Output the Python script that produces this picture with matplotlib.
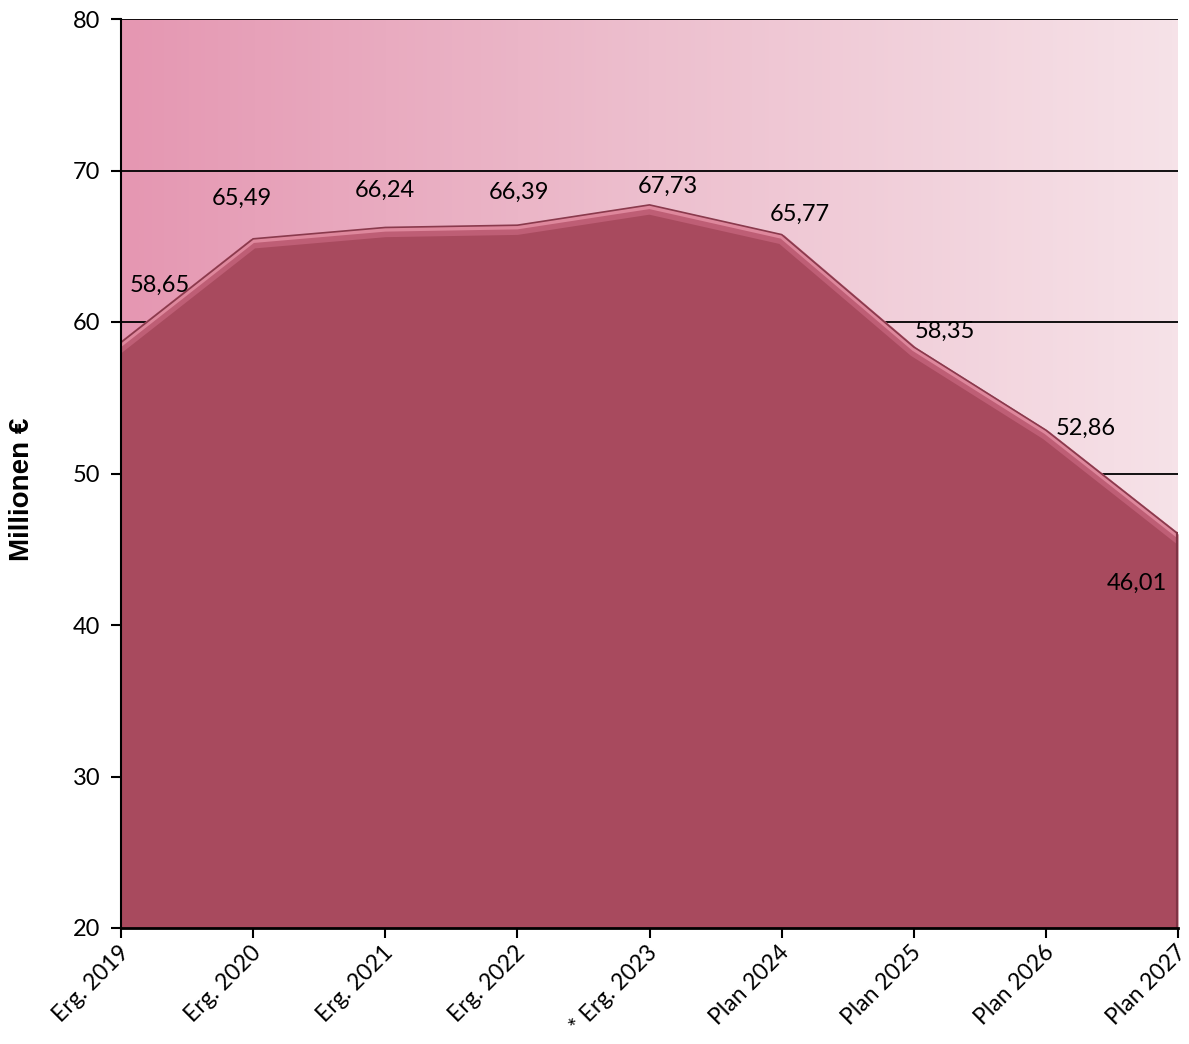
import numpy as np
import matplotlib
matplotlib.use("Agg")
import matplotlib.pyplot as plt
from matplotlib import patheffects as pe
from matplotlib import transforms as mtransforms
from matplotlib.colors import LinearSegmentedColormap

# Data
categories = ["Erg. 2019", "Erg. 2020", "Erg. 2021", "Erg. 2022", "* Erg. 2023",
              "Plan 2024", "Plan 2025", "Plan 2026", "Plan 2027"]
values = [58.65, 65.49, 66.24, 66.39, 67.73, 65.77, 58.35, 52.86, 46.01]
value_labels = ["58,65", "65,49", "66,24", "66,39", "67,73", "65,77", "58,35", "52,86", "46,01"]
y_ticks = [20, 30, 40, 50, 60, 70, 80]

# Label placement offsets in pixels (dx, dy)
label_offsets = [(39, 57), (-11, 40), (0, 37), (2, 33), (18, 19),
                 (18, 20), (31, 16), (40, 2), (-41, -49)]

plt.rcParams["font.family"] = ["Lato", "DejaVu Sans"]

fig = plt.figure(figsize=(11.89, 10.44), dpi=100)
ax = fig.add_axes([121 / 1189, 1 - 928 / 1044, (1178 - 121) / 1189, (928 - 19) / 1044])

x = np.arange(len(categories))
ax.set_xlim(0, len(categories) - 1)
ax.set_ylim(20, 80)

# Horizontal pink gradient background
cmap = LinearSegmentedColormap.from_list("bg", ["#E597B2", "#EDBFCE", "#F6E2E8"])
grad = np.linspace(0, 1, 256).reshape(1, -1)
ax.imshow(grad, cmap=cmap, aspect="auto", extent=[0, len(categories) - 1, 20, 80],
          zorder=0, interpolation="bicubic")

# Gridlines
for yv in y_ticks[1:]:
    ax.axhline(yv, color="black", lw=1.3, zorder=1)

# Area
ax.fill_between(x, 20, values, color="#A84A5E", zorder=2, lw=0)
ax.plot(x, values, color="#8A3A4D", lw=1.2, zorder=3, solid_joinstyle="round",
        path_effects=[pe.Stroke(linewidth=7, foreground="#BE5E75", offset=(0, -3.5)),
                      pe.Stroke(linewidth=3, foreground="#DE879C", offset=(0, -1.5)),
                      pe.Normal()])
# Darker shading along the right edge of the area
ax.plot([x[-1], x[-1]], [20, values[-1]], color="#7F3445", lw=3, zorder=3)

# Value labels
for xi, v, lab, (dx, dy) in zip(x, values, value_labels, label_offsets):
    ax.annotate(lab, (xi, v), xytext=(dx * 0.72, dy * 0.72), textcoords="offset points",
                ha="center", va="center", fontsize=17, color="black", zorder=5)

# Axes styling
for s in ["top", "right"]:
    ax.spines[s].set_visible(False)
ax.spines["left"].set_linewidth(1.5)
ax.spines["bottom"].set_linewidth(2)
ax.spines["left"].set_zorder(4)
ax.spines["bottom"].set_zorder(4)

ax.set_yticks(y_ticks)
ax.set_yticklabels([str(t) for t in y_ticks], fontsize=17)
ax.set_xticks(x)
ax.set_xticklabels([])
ax.tick_params(axis="both", direction="out", length=7, width=1.5, color="black")
ax.tick_params(axis="y", pad=8)

# Rotated category labels, anchored at their top-right corner below each tick
lbl_trans = ax.get_xaxis_transform() + mtransforms.ScaledTranslation(
    -3 / 100, -14 / 100, fig.dpi_scale_trans)
for xi, cat in zip(x, categories):
    ax.text(xi, 0, cat, transform=lbl_trans, rotation=45, rotation_mode="anchor",
            ha="right", va="top", fontsize=16.5, clip_on=False)

fig.text(22 / 1189, 1 - 489 / 1044, "Millionen €", rotation=90, ha="center", va="center",
         fontsize=20, fontweight="bold", family=["Liberation Sans", "DejaVu Sans"])

fig.savefig("out.png", dpi=100, facecolor="white")
